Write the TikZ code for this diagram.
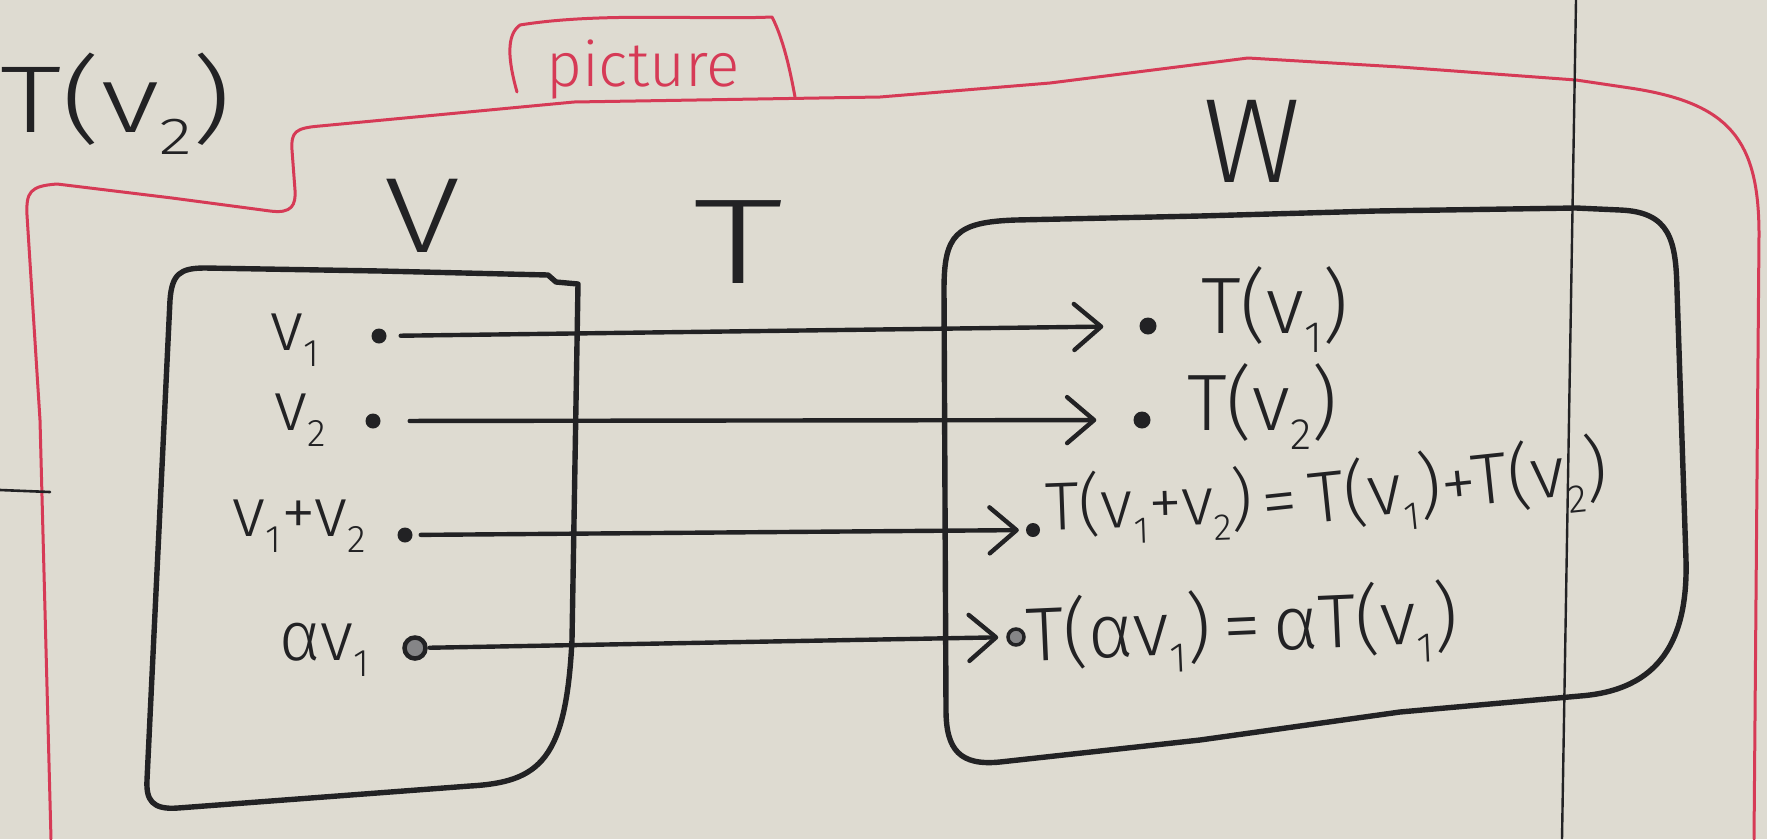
\documentclass[tikz,border=0pt]{standalone}
\usepackage{fontspec}
\usepackage{graphicx}
\setmainfont{Fira Sans Light}
\usetikzlibrary{arrows.meta}

\definecolor{board}{RGB}{222,219,209}
\definecolor{ink}{RGB}{34,34,36}
\definecolor{marker}{RGB}{214,58,86}

% lowered small index, as written by hand
\newcommand\lo[1]{\raisebox{-0.24em}{\scalebox{0.55}{#1}}}
\newcommand\fs[1]{\fontsize{#1}{#1}\selectfont}

\begin{document}
\begin{tikzpicture}[x=1pt,y=-1pt,
  inkline/.style={draw=ink, line width=5.4pt, line cap=round, line join=round},
  redline/.style={draw=marker, line width=3pt, line cap=round, line join=round},
  dot/.style={circle, fill=ink, inner sep=0pt, minimum size=17pt},
  ringdot/.style={circle, draw=ink, line width=4.5pt, fill=ink!55, inner sep=0pt, minimum size=21pt},
  lbl/.style={text=ink, inner sep=0pt},
  mapsto/.style={draw=ink, line width=4.4pt, line cap=round, line join=round,
    -{Straight Barb[length=27pt,width=46pt,line cap=round,line join=round]}}]

\useasboundingbox (0,0) rectangle (1767,839);
\fill[board] (0,0) rectangle (1767,839);

% red outline of the "picture" region
\draw[redline] (51,839) -- (40,420) -- (27,215)
  .. controls (26,192) and (30,186) .. (57,184) -- (172,198) -- (270,211)
  .. controls (292,214) and (296,205) .. (295,190) -- (292,150)
  .. controls (291,132) and (295,128) .. (320,126) -- (574,102) -- (880,97)
  -- (1050,83) -- (1248,58) -- (1400,67) -- (1576,80) -- (1630,88)
  .. controls (1730,103) and (1759,140) .. (1759,235) -- (1754,839);
\draw[redline] (517,92) .. controls (508,60) and (506,35) .. (520,25)
  .. controls (600,12) and (700,20) .. (772,17)
  .. controls (784,40) and (791,75) .. (795,97);
\node[inner sep=0pt, text=marker, anchor=base west, font=\fs{62}] (pic) at (546,86) {picture};

% board divider and stray stroke
\draw[draw=ink, line width=2.4pt] (1576,0) -- (1562,839);
\draw[draw=ink, line width=2.6pt, line cap=round] (0,490) -- (50,492);

% domain V
\draw[inkline] (380,271) -- (548,275) -- (556,282) -- (578,284) -- (572,640)
  .. controls (566,760) and (540,782) .. (470,786) -- (178,808)
  .. controls (152,810) and (146,800) .. (147,780) -- (170,300)
  .. controls (172,274) and (180,268) .. (205,268) -- cycle;

% codomain W
\draw[inkline] (1200,216) -- (1376,211) -- (1576,208) -- (1620,210)
  .. controls (1670,212) and (1676,240) .. (1677,290) -- (1686,560)
  .. controls (1688,640) and (1660,690) .. (1580,696) -- (1400,712)
  -- (1200,740) -- (1000,762) .. controls (960,766) and (946,750) .. (946,710)
  -- (944,290) .. controls (944,235) and (955,222) .. (1016,220) -- cycle;

% headings
\node[lbl, anchor=base west, font=\fs{95}] (tvtop) at (0,132) {\scalebox{1.3}[1]{T(v\lo{2})}};
\node[lbl, anchor=base, font=\fs{107}] (Vname) at (422,252) {\scalebox{1.3}[1]{V}};
\node[lbl, anchor=base, font=\fs{121}] (Tname) at (738,283) {\scalebox{1.5}[1]{T}};
\node[lbl, anchor=base, font=\fs{120}] (Wname) at (1252,182) {W};

% points of V
\node[dot, minimum size=15pt] (v1) at (379,336) {};
\node[dot, minimum size=15pt] (v2) at (373,421) {};
\node[dot, minimum size=15pt] (v12) at (405,535) {};
\node[ringdot] (av1) at (415,648) {};
\node[lbl, anchor=base west, font=\fs{70}] (lv1) at (270,350) {v\lo{1}};
\node[lbl, anchor=base west, font=\fs{70}] (lv2) at (274,430) {v\lo{2}};
\node[lbl, anchor=base west, font=\fs{70}] (lv12) at (232,536) {v\lo{1}+v\lo{2}};
\node[lbl, anchor=base west, font=\fs{70}] (lav1) at (279,660) {αv\lo{1}};

% images in W
\node[dot] (tv1) at (1148,326) {};
\node[dot] (tv2) at (1142,420) {};
\node[dot, minimum size=14pt] (tv12) at (1033,530) {};
\node[ringdot, minimum size=16pt, line width=3.5pt] (tav1) at (1016,637) {};
\node[lbl, anchor=base west, font=\fs{80}] (ltv1) at (1201,333) {T(v\lo{1})};
\node[lbl, anchor=base west, font=\fs{80}] (ltv2) at (1187,430) {T(v\lo{2})};
\node[lbl, anchor=base west, font=\fs{68}, rotate=2] (ltv12) at (1046,530)
  {T(v\lo{1}+v\lo{2})};
\node[lbl, anchor=base west, font=\fs{72}, rotate=6] (ltv12r) at (1264,528)
  {=\,T(v\lo{1})+T(v\lo{2})};
\node[lbl, anchor=base west, font=\fs{76}, rotate=2.5] (ltav1) at (1027,661)
  {T(αv\lo{1})\,=\,αT(v\lo{1})};

% the map T
\draw[mapsto, shorten <=14pt, shorten >=36pt] (v1) -- (tv1);
\draw[mapsto, shorten <=29pt, shorten >=37pt] (v2) -- (tv2);
\draw[mapsto, shorten <=8pt, shorten >=7pt] (v12) -- (tv12);
\draw[mapsto, shorten <=2pt, shorten >=8pt] (av1) -- (tav1);
\end{tikzpicture}
\end{document}
